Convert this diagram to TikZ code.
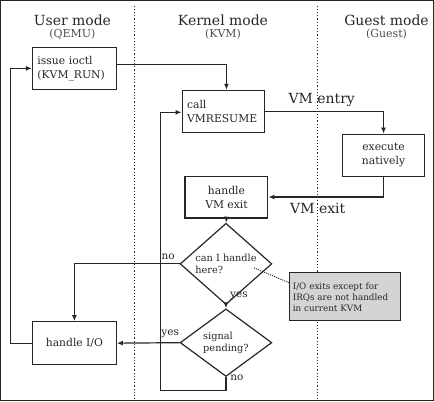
\documentclass[tikz,border=0pt]{standalone}
\usepackage{fontspec}
\setmainfont{DejaVu Serif}
\usetikzlibrary{shapes.geometric,arrows.meta}
\begin{document}
\begin{tikzpicture}[x=1pt,y=-1pt,
  every path/.style={line width=1.2pt,draw=black!85},
  arr/.style={-{Latex[length=6pt,width=5pt]}},
  box/.style={draw,rectangle,inner sep=0pt,minimum height=42pt,font=\fontsize{10.8}{14}\selectfont,text=black!85},
  lbox/.style={box,align=left,text width=#1},
  cbox/.style={box,align=center,minimum width=#1},
  dec/.style={draw,diamond,inner sep=0pt,minimum width=92pt,minimum height=55pt,font=\fontsize{9.8}{12.5}\selectfont,align=left,text=black!85},
  hdr/.style={font=\fontsize{14}{16}\selectfont,text=black!85},
  sub/.style={font=\fontsize{11}{13}\selectfont,text=black!70},
  lbl/.style={font=\fontsize{10.5}{12}\selectfont,text=black!85},
  big/.style={font=\fontsize{14}{16}\selectfont,text=black!85},
  note/.style={draw,fill=black!17,rectangle,inner sep=3pt,minimum width=111pt,minimum height=48pt,align=left,font=\fontsize{8.8}{11}\selectfont,text width=105pt,text=black!85}
]
\useasboundingbox (0,0) rectangle (434,401);
% separators
\draw[dotted,line width=1.2pt] (134,5) -- (134,401);
\draw[dotted,line width=1.2pt] (318,5) -- (318,401);
% headers
\node[hdr] (h1) at (72,20) {User mode};
\node[sub] (s1) at (72,34) {(QEMU)};
\node[hdr] (h2) at (223,20) {Kernel mode};
\node[sub] (s2) at (223,34) {(KVM)};
\node[hdr] (h3) at (387,20) {Guest mode};
\node[sub] (s3) at (387,34) {(Guest)};
% boxes
\node[lbox=74pt,minimum width=84pt,inner xsep=5pt] (ioctl) at (74,68) {issue ioctl\\(KVM\_RUN)};
\node[lbox=73pt,minimum width=83pt,inner xsep=5pt] (call) at (223.5,111) {call\\VMRESUME};
\node[cbox=82pt] (exec) at (384,155) {execute\\natively};
\node[cbox=83pt] (vmexit) at (226.5,197) {handle\\VM exit};
\node[cbox=84pt,minimum height=43pt] (hio) at (74,343.5) {handle I/O};
\node[dec] (d1) at (226,264) {can I handle\\here?};
\node[dec,minimum height=56pt] (d2) at (226,343) {signal\\pending?};
\node[note] (nt) at (345.5,297) {I/O exits except for\\IRQs are not handled\\in current KVM};
% labels
\node[big] (ventry) at (322,100) {VM entry};
\node[big] (vexit) at (318,208) {VM exit};
\node[lbl] (no1) at (168,257) {no};
\node[lbl] (yes1) at (239,296) {yes};
\node[lbl] (yes2) at (170,334) {yes};
\node[lbl] (no2) at (237,378) {no};
% coordinates
\coordinate (lb) at (160,391);
\coordinate (ll) at (10,343.5);
\coordinate (np) at (254,268);
% connectors
\draw[arr] ([yshift=4pt]ioctl.east) -| ([xshift=3pt]call.north);
\draw[arr] (call.east) -| (exec.north);
\draw[arr] (exec.south) |- (vmexit.east);
\draw[arr] (vmexit.south) -- (d1.north);
\draw[arr] (d1.west) -| (hio.north);
\draw[arr] (d1.south) -- (d2.north);
\draw[arr] (d2.west) -- (hio.east);
\draw[arr] (d2.south) |- (lb) |- ([yshift=-1pt]call.west);
\draw[arr] (hio.west) -- (ll) |- (ioctl.west);
\draw[densely dotted,line width=0.9pt] (np) -- ([yshift=14pt]nt.west);
\end{tikzpicture}
\end{document}
